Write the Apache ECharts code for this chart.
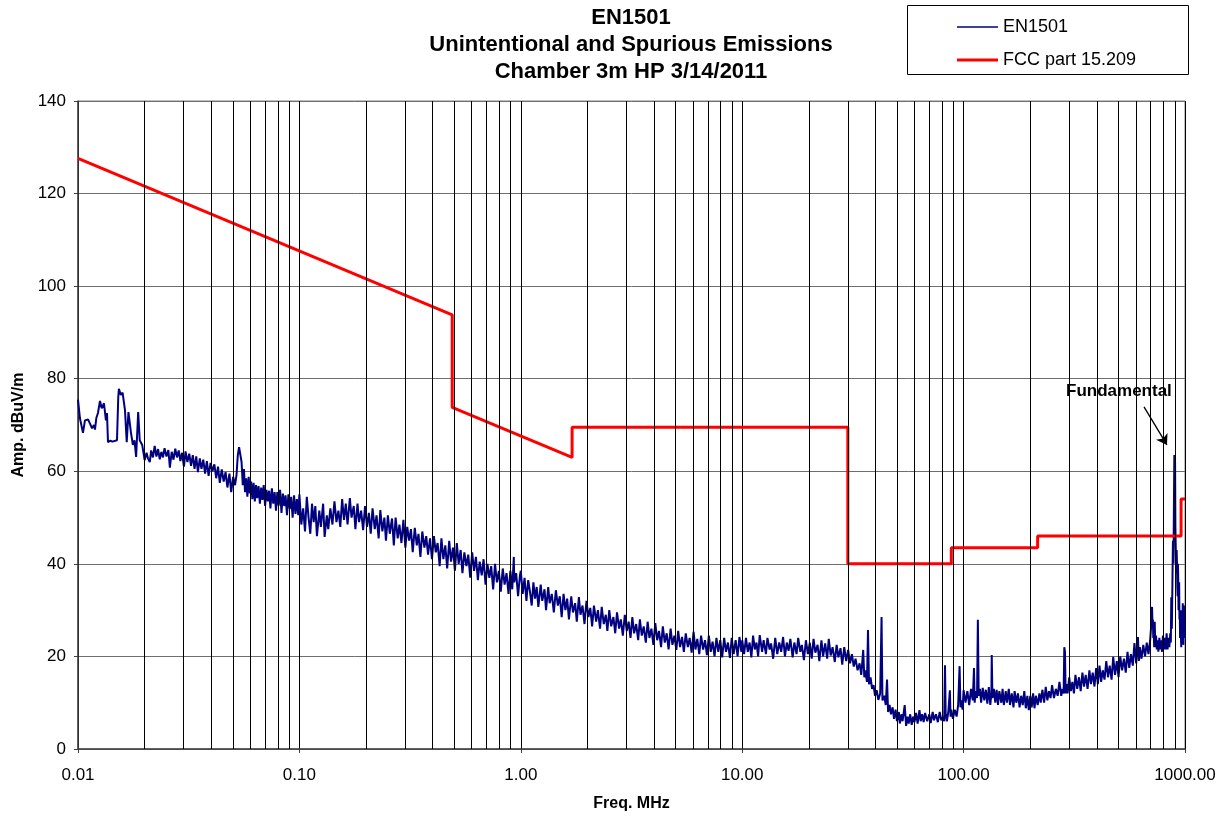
<!DOCTYPE html>
<html>
<head>
<meta charset="utf-8">
<script src="https://cdn.jsdelivr.net/npm/echarts@6/dist/echarts.min.js"></script>
<style>
  html, body { margin: 0; padding: 0; background: #fff; }
  #chart { width: 1225px; height: 818px; }
</style>
</head>
<body>
<div id="chart"></div>
<script>
// EN1501 sweep, [MHz, dBuV/m], one array per decade
var en1501Dec0 = [[0.0100,75.5],[0.0102,71.5],[0.01053,68.3],[0.01075,71],[0.0109,70.6],[0.0111,71.2],[0.0113,70.4],[0.01157,69.3],[0.0118,70],[0.01193,69],[0.0121,71.5],[0.01231,72.6],[0.01257,75.2],[0.0128,73.6],[0.0131,74.7],[0.01337,71],[0.01352,72.6],[0.01366,66.3],[0.0140,66.6],[0.0143,66.4],[0.0146,66.8],[0.0150,66.7],[0.0152,76],[0.0153,77.8],[0.0156,76.5],[0.0159,77],[0.0163,73.2],[0.0166,66.3],[0.0169,72.8],[0.01735,68.3],[0.0177,65.7],[0.0180,66.7],[0.0183,63.1],[0.0187,72.8],[0.0190,66.7],[0.0195,65.7],
  [0.0200,62.4],[0.0204,64],[0.0207,62.8],[0.0211,62],[0.0214,64.5],[0.0218,63],[0.0222,65.5],[0.0226,63.2],[0.0230,64.8],[0.0234,62.6],[0.0238,64.2],[0.0242,63],[0.0246,65],[0.0251,63.2],[0.0256,64.6],[0.0260,60.8],[0.0265,64.2],[0.0270,62.5],[0.0275,64.9],[0.0280,63],[0.0285,64.5],[0.0290,62.2],[0.0295,64],[0.0301,61],[0.0306,64.3],[0.0312,62],[0.0318,63.8],[0.0324,61.2],[0.0330,63.5],[0.0336,60.5],[0.0342,63.2],[0.0348,59.8],[0.0355,62.8],[0.0361,60.5],[0.0368,62.5],[0.0375,59.5],[0.0382,62.2],[0.0389,59],[0.0397,61.8],[0.0405,60],[0.0413,61.5],[0.0421,58.5],[0.0429,61],[0.0437,57.5],[0.0446,60.4],[0.0455,57.8],[0.0464,59.8],[0.0473,56.5],[0.0483,59.5],[0.0492,55.5],[0.0502,58.8],[0.0512,57],[0.0520,59.2],[0.0527,63.5],[0.0534,65.2],[0.0541,64.8],[0.0548,62],[0.0555,57],[0.0562,60.5],[0.0568,55.5],[0.0575,58.5],[0.0582,54.5],[0.0590,58.8],[0.0597,55.2],[0.0605,57.8],[0.0613,54],[0.0621,57.5],[0.0629,53.5],[0.0637,57],[0.0645,54.2],[0.0654,56.8],[0.0663,53],[0.0672,56.5],[0.0681,53.8],[0.0690,57],[0.0700,52.5],[0.0710,56],[0.0720,53.5],[0.0730,55.8],[0.0740,52],[0.0751,56.3],[0.0762,53],[0.0773,55.5],[0.0784,51.5],[0.0795,55.5],[0.0806,52.6],[0.0818,56],[0.0830,51],[0.0842,55.2],[0.0854,52.5],[0.0866,54.8],[0.0879,50.5],[0.0892,55],[0.0905,51.8],[0.0918,54.5],[0.0932,50],[0.0946,54.8],[0.0960,50.8],[0.0974,54],[0.0988,50.5]];
var en1501Dec1 = [[0.100,55],[0.102,48.5],[0.104,52],[0.106,47],[0.108,54.5],[0.110,50],[0.112,46.5],[0.114,53],[0.116,49],[0.118,52.5],[0.120,46],[0.123,51.5],[0.125,48],[0.128,53],[0.130,45.8],[0.133,50.5],[0.135,47.5],[0.138,52],[0.141,48.5],[0.144,53.5],[0.147,49],[0.150,51.5],[0.153,48],[0.156,54],[0.159,49.5],[0.162,53],[0.165,48.5],[0.169,54.2],[0.172,50],[0.176,52.5],[0.179,47.5],[0.183,53],[0.186,49],[0.190,51.5],[0.194,47.3],[0.198,52.5],[0.202,48],[0.206,51],[0.210,46.5],[0.214,52],[0.219,47.5],[0.223,50.5],[0.228,45.5],[0.232,51.6],[0.237,47],[0.242,50],[0.246,45],[0.251,50.5],[0.256,46.5],[0.262,49.8],[0.267,44],[0.272,50],[0.278,45.5],[0.283,48.5],[0.289,44.5],[0.295,49.5],[0.301,43.5],[0.307,48],[0.313,45],[0.319,47.5],[0.325,42.5],[0.332,47.8],[0.339,44],[0.345,46.5],[0.352,41.5],[0.359,47],[0.367,43.5],[0.374,46],[0.381,42],[0.389,45.5],[0.397,41],[0.405,46],[0.413,42.5],[0.421,44.5],[0.430,39.5],[0.438,45.5],[0.447,41],[0.456,44],[0.465,39],[0.475,45],[0.484,40.5],[0.494,43.5],[0.504,38.5],[0.514,44.5],[0.524,40],[0.535,43],[0.545,38],[0.556,42.5],[0.568,39.5],[0.579,42],[0.591,37],[0.603,42.5],[0.615,38.5],[0.627,41.5],[0.640,36.5],[0.652,40.5],[0.666,37.5],[0.679,41],[0.693,35.5],[0.707,40],[0.721,37],[0.735,39.5],[0.750,34.5],[0.765,40],[0.780,36],[0.796,38.5],[0.812,34],[0.829,39],[0.845,35.5],[0.862,38],[0.880,33.5],[0.897,38.5],[0.915,34.5],[0.930,41.5],[0.934,36],[0.953,38],[0.972,33],[0.991,37.5]];
var en1501Dec2 = [[1.00,38.5],[1.02,33.5],[1.04,37],[1.06,32],[1.08,36.5],[1.10,34],[1.12,31],[1.14,36],[1.16,32.5],[1.18,35],[1.20,30.7],[1.23,35.5],[1.25,32],[1.28,34.5],[1.30,30],[1.33,35],[1.35,31.5],[1.38,33.5],[1.41,29.5],[1.44,34.3],[1.47,31],[1.50,33],[1.53,28.5],[1.56,33.5],[1.59,30],[1.62,32.5],[1.65,28],[1.69,33],[1.72,29.5],[1.76,31.5],[1.79,27.5],[1.83,32.8],[1.86,29],[1.90,31],[1.94,27],[1.98,32],[2.02,28.5],[2.06,30.5],[2.10,26.5],[2.14,31],[2.19,27.5],[2.23,30],[2.28,26],[2.32,30.7],[2.37,27],[2.42,29],[2.46,25.5],[2.51,30],[2.56,26.5],[2.62,28.5],[2.67,25],[2.72,29.5],[2.78,26],[2.83,28],[2.89,24.5],[2.95,29],[3.01,25.5],[3.07,27.5],[3.13,24],[3.19,28.5],[3.25,25],[3.32,27],[3.39,23.5],[3.45,28],[3.52,24.5],[3.59,26.5],[3.67,23],[3.74,27.5],[3.81,24],[3.89,26],[3.97,22.5],[4.05,27.2],[4.13,23.5],[4.21,25.5],[4.30,22],[4.38,26.5],[4.47,23],[4.56,25],[4.65,21.5],[4.75,26],[4.84,22.5],[4.94,24.5],[5.04,21.4],[5.14,25.5],[5.24,22],[5.35,24.2],[5.45,21],[5.56,25],[5.68,22],[5.79,24],[5.91,20.8],[6.03,25.3],[6.15,21.5],[6.27,23.8],[6.40,20.5],[6.52,24.5],[6.66,21.5],[6.79,23.5],[6.93,20.3],[7.07,24.5],[7.21,21],[7.35,23.2],[7.50,20],[7.65,24],[7.80,21],[7.96,23.5],[8.12,19.8],[8.29,24],[8.45,21],[8.62,23],[8.80,19.7],[8.97,24],[9.15,20.5],[9.34,23.5],[9.53,20],[9.72,24.2],[9.91,21]];
var en1501Dec3 = [[10.0,23.5],[10.2,20.5],[10.4,24],[10.6,21],[10.8,23],[11.0,19.8],[11.2,24.5],[11.4,21.5],[11.6,23],[11.8,20],[12.0,24.6],[12.3,21],[12.5,23.5],[12.8,20.5],[13.0,24],[13.3,21.5],[13.5,22.8],[13.8,19.5],[14.1,24],[14.4,20.5],[14.7,23],[15.0,21],[15.3,24.2],[15.6,20],[15.9,23],[16.2,21.2],[16.5,23.8],[16.9,19.8],[17.2,23],[17.6,20.5],[17.9,24],[18.3,21],[18.6,22.5],[19.0,19.2],[19.4,23.5],[19.8,20.5],[20.2,23],[20.6,19.5],[21.0,23.8],[21.4,20.8],[21.9,22.5],[22.3,19],[22.8,23.5],[23.2,20],[23.7,22.8],[24.2,19.5],[24.6,23.8],[25.1,20.2],[25.6,22],[26.2,18.8],[26.7,22.5],[27.2,19.8],[27.8,21.8],[28.3,18.2],[28.9,22],[29.5,19],[30.1,21.4],[30.7,18.5],[31.3,20.5],[31.9,17.8],[32.5,19.5],[33.2,17],[33.9,18.5],[34.5,16],[35.2,21.4],[35.6,15.5],[36.0,17],[36.6,14.5],[37.0,25.7],[37.4,14],[38.0,15.5],[38.6,13],[39.2,13.8],[39.8,11.5],[40.5,12.7],[41.2,10.6],[42.0,12],[42.6,28.5],[43.0,10.5],[43.8,11.5],[44.5,9.5],[45.1,15],[45.6,8],[46.3,9.5],[47.0,7.5],[47.8,9],[48.5,6.5],[49.3,8.5],[50.0,6],[51.0,8],[51.5,5.5],[52.3,7.5],[53.0,6],[54.2,9.5],[55.0,5],[55.8,7],[56.5,5.5],[57.4,7.5],[58.3,5.2],[59.2,7],[60.0,5.8],[61.0,7.8],[62.0,5.5],[63.2,8.4],[64.0,6],[65.0,7.5],[66.0,5.8],[67.0,7.8],[68.5,6],[70.0,7.5],[71.0,5.6],[72.5,8],[73.5,6.2],[75.0,7.5],[76.5,5.8],[78.0,8],[79.3,6.2],[80.7,7],[81.7,6],[82.4,18.1],[83.0,7.5],[84.0,6],[85.3,8],[86.7,12.7],[87.3,7],[88.0,8.5],[89.5,6.5],[91.2,8.5],[93.0,7],[94.5,9.5],[95.9,17.9],[96.8,9],[98.0,10.5],[98.9,8.5]];
var en1501Dec4 = [[100,12.7],[102,10],[104,12.5],[106,9.5],[108,13],[110,10.5],[111.4,17.5],[112.2,10],[113.5,12.5],[115,11],[116,27.9],[117,11.5],[118.5,13],[120,10],[122,13.2],[124,10.5],[126,12.8],[128,9.8],[130,13.4],[132,9.5],[133.5,12],[134,20.3],[135,11],[137,13],[139,10],[141,12.8],[143,9.5],[145,12.5],[148,10],[150,13],[152,9.5],[155,12.5],[157,10],[160,13],[162,9.5],[165,12],[168,9],[170,12.5],[173,10],[176,12],[179,9],[182,11.5],[185,9.5],[188,12.5],[191,8.8],[194,11.5],[197,8.4],[200,11.5],[203,9],[206,12],[209,8.8],[212,11.5],[216,9.5],[220,12],[223,10],[227,12.8],[231,10],[235,13.4],[239,10.5],[243,12.5],[247,11],[251,13.8],[256,11],[261,13],[266,11.5],[271,14.5],[276,11.5],[280,13],[283,12],[285,22],[287,21],[289,12],[292,14],[295,12],[300,15.5],[305,12.5],[310,14.5],[315,12],[320,16],[326,13],[332,15.5],[338,12.5],[344,16.5],[350,13.5],[356,16],[363,13],[370,17],[376,14],[383,16.5],[390,13.5],[397,17.5],[404,14],[411,18],[418,14.5],[425,17],[433,15],[441,19],[449,15.5],[457,18],[466,15],[474,19.9],[483,16],[492,19],[501,15.5],[510,20],[520,17],[530,19.5],[540,16.5],[550,21],[560,17.5],[570,20.5],[581,18],[591,22.9],[602,18.5],[613,24.2],[619,19],[625,22],[636,19.5],[648,22.5],[660,20],[672,23],[684,20.5],[696,23.5],[702,26],[706,29],[710,30.7],[713,27],[716,28],[719,24],[722,25.5],[726,22],[730,27.5],[734,22],[740,24.5],[746,21.5],[752,23.5],[758,21],[766,24],[773,21.5],[780,23.5],[788,21],[795,24.5],[802,21.5],[810,24],[818,21.5],[826,25],[834,21.5],[842,24],[850,22],[858,25],[863,23],[867,32.8],[872,26],[877,35],[882,45],[887,40],[892,55],[895,63.5],[898,61],[902,62],[905,48],[908,44],[911,40],[914,38],[917,43],[920,40],[923,35],[926,33],[929,40],[932,37],[935,30],[938,31],[941,36],[944,28],[947,30],[950,24],[953,27],[956,30],[959,24],[962,22],[965,29],[968,26],[971,23],[974,27],[977,31.5],[980,29],[983,22.5],[986,26],[989,31],[992,25],[995,28],[1000,24]];

// FCC part 15.209 limit (extrapolated to 3 m)
var fccLimit = [[0.01,127.6],[0.49,93.8],[0.49,73.8],[1.705,63.0],[1.705,69.5],[30,69.5],[30,40],[88,40],[88,43.5],[216,43.5],[216,46],[960,46],[960,54],[1000,54]];

// log grid lines between the decades
var minorGrid = [0.02,0.03,0.04,0.05,0.06,0.07,0.08,0.09,0.2,0.3,0.4,0.5,0.6,0.7,0.8,0.9,2,3,4,5,6,7,8,9,20,30,40,50,60,70,80,90,200,300,400,500,600,700,800,900];

// arrow to the fundamental, and its label
var fundamentalArrow = [[653,73.9],[829,65.7]];
var fundamentalLabel = [503,77.3];

var en1501 = [].concat(en1501Dec0, en1501Dec1, en1501Dec2, en1501Dec3, en1501Dec4);

var font = 'Liberation Sans, Arial, sans-serif';
var chart = echarts.init(document.getElementById('chart'));

function legendItem(name, top, height) {
    return {
        orient: 'vertical',
        left: 957,
        top: top,
        padding: 0,
        icon: 'rect',
        itemWidth: 41,
        itemHeight: height,
        textStyle: { fontFamily: font, fontSize: 18, color: '#000' },
        data: [name]
    };
}

chart.setOption({
    animation: false,
    backgroundColor: '#fff',
    title: {
        text: 'EN1501\nUnintentional and Spurious Emissions\nChamber 3m HP 3/14/2011',
        left: 631,
        top: 4,
        padding: 0,
        textAlign: 'center',
        textStyle: {
            fontFamily: font,
            fontSize: 22,
            fontWeight: 'bold',
            color: '#000',
            lineHeight: 27
        }
    },
    legend: [legendItem('EN1501', 18, 1.5), legendItem('FCC part 15.209', 51, 3)],
    graphic: [{
        type: 'rect',
        left: 907,
        top: 5,
        shape: { width: 281, height: 69 },
        style: { fill: 'transparent', stroke: '#000', lineWidth: 1 }
    }],
    grid: {
        left: 78,
        right: 40,
        top: 101,
        bottom: 69,
        show: true,
        borderColor: '#808080',
        borderWidth: 1
    },
    xAxis: {
        type: 'log',
        logBase: 10,
        min: 0.01,
        max: 1000,
        name: 'Freq. MHz',
        nameLocation: 'middle',
        nameGap: 47,
        nameTextStyle: { fontFamily: font, fontSize: 16, fontWeight: 'bold', color: '#000' },
        axisLine: { lineStyle: { color: '#404040', width: 1.5 } },
        axisTick: { show: true, length: 4, lineStyle: { color: '#404040' } },
        axisLabel: {
            fontFamily: font,
            fontSize: 17,
            color: '#000',
            margin: 18,
            formatter: function (v) { return v.toFixed(2); }
        },
        splitLine: { show: true, lineStyle: { color: '#000', width: 1 } }
    },
    yAxis: {
        type: 'value',
        min: 0,
        max: 140,
        interval: 20,
        name: 'Amp. dBuV/m',
        nameLocation: 'middle',
        nameGap: 51,
        nameTextStyle: { fontFamily: font, fontSize: 16, fontWeight: 'bold', color: '#000' },
        axisLine: { show: true, lineStyle: { color: '#404040', width: 1.5 } },
        axisTick: { show: true, length: 4, lineStyle: { color: '#404040' } },
        axisLabel: { fontFamily: font, fontSize: 17, color: '#000', margin: 12 },
        splitLine: { show: true, lineStyle: { color: '#6e6e6e', width: 1 } }
    },
    series: [
        {
            type: 'line',
            data: [],
            silent: true,
            z: 1,
            markLine: {
                silent: true,
                symbol: 'none',
                animation: false,
                label: { show: false },
                lineStyle: { color: '#000', width: 1, type: 'solid' },
                data: minorGrid.map(function (v) { return { xAxis: v }; })
            }
        },
        {
            name: 'EN1501',
            type: 'line',
            data: en1501,
            z: 3,
            symbol: 'none',
            showSymbol: false,
            lineStyle: { color: '#000080', width: 2 },
            itemStyle: { color: '#000080' },
            markLine: {
                silent: true,
                symbol: ['none', 'arrow'],
                symbolSize: 10,
                label: { show: false },
                lineStyle: { color: '#000', width: 1.3, type: 'solid' },
                data: [[{ coord: fundamentalArrow[0] }, { coord: fundamentalArrow[1] }]]
            },
            markPoint: {
                silent: true,
                symbol: 'circle',
                symbolSize: 0,
                label: {
                    show: true,
                    position: 'inside',
                    formatter: 'Fundamental',
                    fontFamily: font,
                    fontSize: 17,
                    fontWeight: 'bold',
                    color: '#000'
                },
                data: [{ coord: fundamentalLabel }]
            }
        },
        {
            name: 'FCC part 15.209',
            type: 'line',
            data: fccLimit,
            z: 4,
            symbol: 'none',
            showSymbol: false,
            lineStyle: { color: '#ff0000', width: 3 },
            itemStyle: { color: '#ff0000' }
        }
    ]
});
</script>
</body>
</html>
